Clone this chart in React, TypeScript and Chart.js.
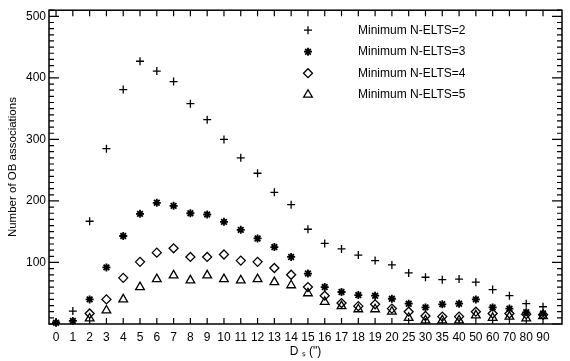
import React, { useEffect, useRef } from "react";
import { Chart, registerables } from "chart.js";

Chart.register(...registerables);

const categories = [
  "0", "1", "2", "3", "4", "5", "6", "7", "8", "9", "10", "11", "12", "13", "14",
  "15", "16", "17", "18", "19", "20", "25", "30", "35", "40", "50", "60", "70", "80", "90",
];
const seriesLabels = [
  "Minimum N-ELTS=2",
  "Minimum N-ELTS=3",
  "Minimum N-ELTS=4",
  "Minimum N-ELTS=5",
];
const nElts2 = [3, 21, 167, 285, 381, 427, 411, 394, 358, 332, 300, 270, 245, 214, 194, 154, 131, 122, 112, 103, 96, 83, 76, 72, 73, 68, 56, 46, 33, 28];
const nElts3 = [2, 5, 40, 92, 143, 179, 197, 192, 180, 178, 166, 153, 139, 125, 109, 82, 60, 52, 47, 46, 41, 33, 27, 32, 33, 40, 27, 25, 19, 17];
const nElts4 = [null, null, 17, 40, 75, 101, 116, 123, 109, 109, 113, 103, 101, 91, 80, 60, 46, 34, 29, 32, 25, 20, 13, 12, 12, 20, 17, 17, 16, 15];
const nElts5 = [null, null, 9, 22, 40, 60, 73, 79, 71, 79, 73, 71, 73, 68, 63, 50, 36, 29, 24, 24, 20, 10, 6, 6, 6, 14, 10, 12, 9, 13];
const yTicks = [100, 200, 300, 400, 500];
const yMax = 510;
const xTitle = "D \u209B (\")";
const yTitle = "Number of OB associations";

const FONT = "'Liberation Sans', Arial, Helvetica, sans-serif";

type Sym = "cross" | "star" | "rectRot" | "triangle";
const symbols: Sym[] = ["cross", "star", "rectRot", "triangle"];
const radii = [4, 4, 4.5, 5];
const widths = [1.3, 1.8, 1.3, 1.3];

function drawSymbol(ctx: CanvasRenderingContext2D, sym: Sym, x: number, y: number, r: number) {
  ctx.beginPath();
  if (sym === "cross") {
    ctx.moveTo(x - r, y); ctx.lineTo(x + r, y);
    ctx.moveTo(x, y - r); ctx.lineTo(x, y + r);
  } else if (sym === "star") {
    ctx.moveTo(x - r, y); ctx.lineTo(x + r, y);
    ctx.moveTo(x, y - r); ctx.lineTo(x, y + r);
    const d = r * Math.SQRT1_2;
    ctx.moveTo(x - d, y - d); ctx.lineTo(x + d, y + d);
    ctx.moveTo(x - d, y + d); ctx.lineTo(x + d, y - d);
  } else if (sym === "rectRot") {
    ctx.moveTo(x - r, y); ctx.lineTo(x, y - r); ctx.lineTo(x + r, y); ctx.lineTo(x, y + r); ctx.closePath();
  } else {
    const a = (2 * Math.PI) / 3;
    ctx.moveTo(x, y - r);
    ctx.lineTo(x + Math.sin(a) * r, y - Math.cos(a) * r);
    ctx.lineTo(x + Math.sin(2 * a) * r, y - Math.cos(2 * a) * r);
    ctx.closePath();
  }
  ctx.stroke();
}

const framePlugin = {
  id: "frame",
  afterDraw(chart: any) {
    const { ctx, chartArea } = chart;
    const { left, right, top, bottom } = chartArea;
    const xs = chart.scales.x;
    const ys = chart.scales.y;
    ctx.save();
    ctx.strokeStyle = "#000";
    ctx.lineWidth = 1.5;
    ctx.strokeRect(left, top, right - left, bottom - top);
    ctx.lineWidth = 1.2;
    ctx.beginPath();
    categories.forEach((_, i) => {
      const px = xs.getPixelForValue(i);
      ctx.moveTo(px, bottom);
      ctx.lineTo(px, bottom - 6);
      ctx.moveTo(px, top);
      ctx.lineTo(px, top + 6);
    });
    for (let v = 0; v <= yMax; v += 10) {
      const py = ys.getPixelForValue(v);
      const len = v % 100 === 0 ? 10 : 5;
      ctx.moveTo(left, py);
      ctx.lineTo(left + len, py);
      ctx.moveTo(right, py);
      ctx.lineTo(right - len, py);
    }
    ctx.stroke();

    // legend
    ctx.fillStyle = "#000";
    ctx.font = `12px ${FONT}`;
    ctx.textBaseline = "middle";
    ctx.textAlign = "left";
    const mx = left + 259;
    const tx = left + 309;
    seriesLabels.forEach((lab, i) => {
      const yy = top + 20 + i * 21.5;
      ctx.lineWidth = widths[i];
      drawSymbol(ctx, symbols[i], mx, yy, radii[i]);
      ctx.fillText(lab, tx, yy);
    });
    ctx.restore();
  },
};

export default function App() {
  const ref = useRef<HTMLCanvasElement | null>(null);
  useEffect(() => {
    document.body.style.margin = "0";
    const canvas = ref.current;
    if (!canvas) return;
    const series = [nElts2, nElts3, nElts4, nElts5];
    const chart = new Chart(canvas, {
      type: "scatter",
      data: {
        datasets: series.map((vals, si) => ({
          label: seriesLabels[si],
          data: vals.map((v, i) => ({ x: i, y: v as any })),
          pointStyle: symbols[si],
          pointRadius: radii[si],
          pointBorderWidth: widths[si],
          borderColor: "#000",
          backgroundColor: "rgba(0,0,0,0)",
          showLine: false,
          clip: false as any,
        })),
      },
      options: {
        animation: false,
        responsive: false,
        devicePixelRatio: 1,
        layout: { padding: { top: 7, right: 8, left: 0, bottom: 0 } },
        plugins: { legend: { display: false }, tooltip: { enabled: false } },
        scales: {
          x: {
            type: "linear",
            min: -0.42,
            max: 30.13,
            afterBuildTicks: (s: any) => {
              s.ticks = categories.map((_, i) => ({ value: i }));
            },
            afterFit: (s: any) => {
              s.height = 37;
            },
            ticks: {
              autoSkip: false,
              maxRotation: 0,
              minRotation: 0,
              padding: 6,
              color: "#000",
              font: { family: FONT, size: 12 },
              callback: (v: any) => categories[v] ?? "",
            },
            grid: { display: false, drawTicks: false },
            border: { display: false },
            title: {
              display: true,
              text: xTitle,
              color: "#000",
              font: { family: FONT, size: 12 },
              padding: { top: 0, bottom: 2 },
            },
          },
          y: {
            type: "linear",
            min: 0,
            max: yMax,
            afterBuildTicks: (s: any) => {
              s.ticks = yTicks.map((v) => ({ value: v }));
            },
            afterFit: (s: any) => {
              s.width = 49;
            },
            ticks: {
              padding: 3,
              color: "#000",
              font: { family: FONT, size: 12 },
            },
            grid: { display: false, drawTicks: false },
            border: { display: false },
            title: {
              display: true,
              text: yTitle,
              color: "#000",
              font: { family: FONT, size: 11.5 },
              padding: { top: 6, bottom: 0 },
            },
          },
        },
      },
      plugins: [framePlugin],
    });
    return () => chart.destroy();
  }, []);
  return (
    <div style={{ width: 570, height: 361, background: "#fff" }}>
      <canvas ref={ref} width={570} height={361} />
    </div>
  );
}
